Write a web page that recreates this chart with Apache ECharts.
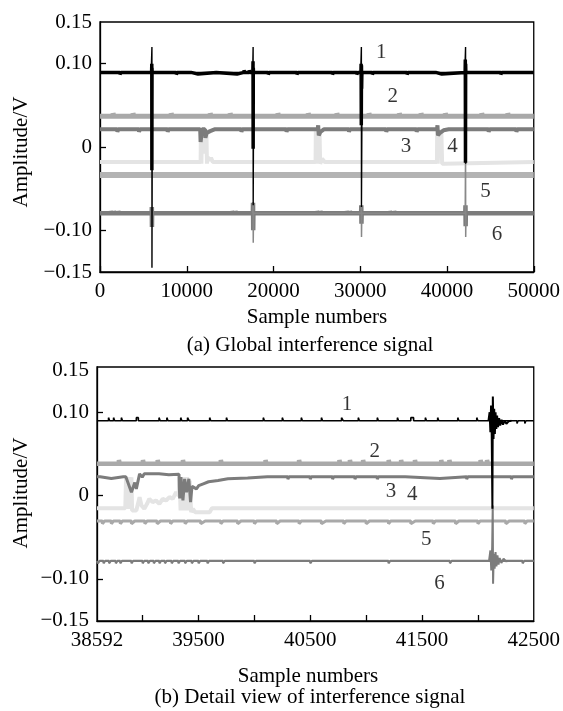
<!DOCTYPE html>
<html><head><meta charset="utf-8">
<script src="https://cdn.jsdelivr.net/npm/echarts@6/dist/echarts.min.js"></script>
<style>html,body{margin:0;padding:0;background:#fff}#c{width:563px;height:711px}</style>
</head><body><div id="c"></div>
<script>
// ---------- (a) global view : sample number / amplitude (V) ----------
const yLabelValues = [-0.15, -0.10, 0, 0.10, 0.15];
const yTickValues = [-0.10, 0, 0.10];

const topSig1 = [[0,0.0895],[2300,0.0895],[2300,0.087],[2400,0.087],[2400,0.0895],
 [5950,0.0895],[5970,0.1],[5980,-0.028],[5995,0.095],[6010,0.0895],
 [8800,0.0895],[8800,0.087],[8900,0.0895],
 [10500,0.0895],[10500,0.0875],[11300,0.0875],[11300,0.0895],
 [13400,0.0895],[13400,0.0875],[15800,0.0875],[15800,0.0895],
 [16600,0.0895],[16600,0.092],[16680,0.092],[16680,0.0895],[17200,0.0895],[17200,0.092],[17280,0.092],[17280,0.0895],
 [17620,0.0895],[17640,0.103],[17655,-0.002],[17670,0.095],[17690,0.0895],
 [19400,0.0895],[19400,0.087],[19500,0.0895],
 [22700,0.0895],[22700,0.087],[22800,0.0895],
 [26800,0.0895],[26800,0.087],[26900,0.0895],
 [29600,0.0895],[29600,0.087],[29700,0.0895],
 [30080,0.0895],[30100,0.1],[30120,0.026],[30140,0.098],[30160,0.07],[30180,0.085],[30200,0.0895],
 [31400,0.0895],[31400,0.087],[31500,0.0895],
 [35400,0.0895],[35400,0.087],[35500,0.0895],
 [38700,0.0895],[38700,0.0875],[39400,0.0875],[39400,0.0895],
 [42090,0.0895],[42110,0.105],[42130,-0.019],[42150,0.1],[42170,0.0895],
 [46200,0.0895],[46200,0.087],[46300,0.0895],[50000,0.0895]];
const topSig1Burst = [[5900,0.0895],[5985,0.12],[5990,-0.145],[6040,0.0895],
 [17600,0.0895],[17650,0.12],[17660,-0.07],[17720,0.0895],
 [30050,0.0895],[30130,0.12],[30140,-0.072],[30220,0.0895],
 [42050,0.0895],[42140,0.12],[42150,-0.02],[42220,0.0895]];
const topSig2 = [[0,0.037],[1500,0.037],[1500,0.0405],[1600,0.037],[3800,0.037],[3800,0.0405],[3900,0.037],
 [8200,0.037],[8200,0.0405],[8300,0.037],[12700,0.037],[12700,0.0405],[12800,0.037],
 [15000,0.037],[15000,0.0405],[15100,0.037],[20500,0.037],[20500,0.0405],[20600,0.037],
 [24000,0.037],[24000,0.0405],[24100,0.037],[27300,0.037],[27300,0.0405],[27400,0.037],
 [31000,0.037],[31000,0.0405],[31100,0.037],[34500,0.037],[34500,0.0405],[34600,0.037],
 [37000,0.037],[37000,0.0405],[37100,0.037],[39800,0.037],[39800,0.0405],[39900,0.037],
 [44000,0.037],[44000,0.0405],[44100,0.037],[47000,0.037],[47000,0.0405],[47100,0.037],[50000,0.037]];
const topSig3 = [[0,0.0212],[2000,0.0212],[2000,0.018],[2100,0.0212],[4500,0.0212],[4500,0.018],[4600,0.0212],
 [7800,0.0212],[7800,0.018],[7900,0.0212],
 [11550,0.0212],[11600,0.006],[11700,0.006],[11750,0.0212],[12100,0.0212],[12150,0.011],[12300,0.017],[12700,0.019],[13200,0.0212],
 [16300,0.0212],[16300,0.018],[16400,0.0212],[21500,0.0212],[21500,0.018],[21600,0.0212],
 [25100,0.0212],[25150,0.026],[25220,0.014],[25400,0.018],[25800,0.0212],
 [28700,0.0212],[28700,0.018],[28800,0.0212],[33000,0.0212],[33000,0.018],[33100,0.0212],
 [36500,0.0212],[36500,0.018],[36600,0.0212],
 [38850,0.0212],[38900,0.026],[38960,0.014],[39200,0.017],[39600,0.02],[40200,0.0212],
 [44800,0.0212],[44800,0.018],[44900,0.0212],[48000,0.0212],[48000,0.018],[48100,0.0212],[50000,0.0212]];
const topSig4 = [[0,-0.018],[11600,-0.018],[11630,0.021],[11690,-0.02],[11750,0.021],[11810,-0.005],[11900,0.003],
 [12000,-0.008],[12100,0.004],[12200,-0.002],[12260,0.021],[12330,-0.02],[12400,-0.012],[12600,-0.016],[12800,-0.013],[13000,-0.018],
 [24850,-0.018],[24880,0.021],[24950,-0.02],[25020,0.021],[25100,-0.004],[25200,0.003],[25300,0.021],[25380,-0.02],[25600,-0.014],[25900,-0.018],
 [38840,-0.018],[38870,0.021],[38930,-0.02],[39000,-0.002],[39150,-0.006],[39300,0.003],[39340,0.021],[39440,-0.02],[39700,-0.02],[39800,-0.018],
 [50000,-0.018]];
const topSig5 = [[0,-0.0336],[50000,-0.0336]];
const topSig6 = [[0,-0.0796],
 [1200,-0.0796],[1200,-0.0768],[1260,-0.0768],[1260,-0.0796],[1600,-0.0796],[1600,-0.0768],[1660,-0.0768],[1660,-0.0796],
 [2100,-0.0796],[2100,-0.0768],[2160,-0.0768],[2160,-0.0796],
 [5960,-0.0796],[5975,-0.072],[5990,-0.096],[6005,-0.0796],
 [15200,-0.0796],[15200,-0.0768],[15260,-0.0768],[15260,-0.0796],[15600,-0.0796],[15600,-0.0768],[15660,-0.0768],[15660,-0.0796],
 [17620,-0.0796],[17640,-0.067],[17660,-0.1],[17680,-0.0796],
 [25000,-0.0796],[25000,-0.0768],[25060,-0.0768],[25060,-0.0796],[25400,-0.0796],[25400,-0.0768],[25460,-0.0768],[25460,-0.0796],
 [28400,-0.0796],[28400,-0.0768],[28460,-0.0768],[28460,-0.0796],[28800,-0.0796],[28800,-0.0768],[28860,-0.0768],[28860,-0.0796],
 [30100,-0.0796],[30120,-0.07],[30140,-0.092],[30160,-0.0796],
 [33400,-0.0796],[33400,-0.0768],[33460,-0.0768],[33460,-0.0796],[33900,-0.0796],[33900,-0.0768],[33960,-0.0768],[33960,-0.0796],
 [42110,-0.0796],[42130,-0.07],[42150,-0.095],[42170,-0.0796],[50000,-0.0796]];
const topSig6Burst = [[17600,-0.0796],[17650,-0.066],[17665,-0.115],[17700,-0.0796],
 [30100,-0.0796],[30130,-0.072],[30145,-0.108],[30180,-0.0796],
 [42100,-0.0796],[42140,0.0],[42155,-0.108],[42190,-0.0796]];
const markText = ['1','2','3','4','5','6'];
const topMarkX = [32414, 33750, 35270, 40620, 44430, 45770];
const topMarkY = [0.113, 0.061, 0.001, 0.0006, -0.053, -0.105];

// ---------- (b) detail view ----------
const botXLabels = [38592, 39500, 40500, 41500, 42500];
const botXTicks = [39000, 39500, 40000, 40500, 41000, 41500, 42000];
const botSig1 = [[38592,0.0898],[38695,0.0898],[38695,0.0935],[38705,0.0898],[38740,0.0898],[38740,0.0935],[38750,0.0898],
 [38810,0.0898],[38810,0.0935],[38820,0.0898],[38944,0.0898],[38944,0.0935],[38962,0.0935],[38962,0.0898],
 [39147,0.0898],[39147,0.0935],[39157,0.0898],[39217,0.0898],[39217,0.0935],[39227,0.0898],
 [39341,0.0898],[39341,0.0935],[39351,0.0898],[39402,0.0898],[39402,0.0935],[39416,0.0935],[39416,0.0898],
 [39600,0.0898],[39600,0.0935],[39610,0.0898],[39750,0.0898],[39750,0.0935],[39760,0.0898],
 [40080,0.0898],[40080,0.0935],[40090,0.0898],[40250,0.0898],[40250,0.0935],[40260,0.0898],
 [40420,0.0898],[40420,0.0935],[40430,0.0898],[40600,0.0898],[40600,0.0935],[40610,0.0898],
 [40780,0.0898],[40780,0.0935],[40795,0.0935],[40795,0.0898],[40930,0.0898],[40930,0.0935],[40940,0.0898],
 [41100,0.0898],[41100,0.0935],[41110,0.0898],[41280,0.0898],[41280,0.0935],[41290,0.0898],
 [41400,0.0898],[41400,0.0935],[41425,0.0935],[41425,0.0898],[41530,0.0898],[41530,0.0935],[41540,0.0898],
 [41640,0.0898],[41640,0.0935],[41650,0.0898],[41820,0.0898],[41820,0.0935],[41830,0.0898],
 [41990,0.0898],[41990,0.0935],[42000,0.0898],[42350,0.0898],[42350,0.0865],[42360,0.0898],
 [42420,0.0898],[42420,0.0865],[42430,0.0898],[42500,0.0898]];
const botSig1Burst = [[42095,0.0898],[42105,0.1],[42112,0.076],[42118,0.108],[42124,0.072],[42130,-0.016],[42134,0.119],
 [42140,0.068],[42146,0.104],[42152,0.074],[42158,0.1],[42165,0.08],[42172,0.096],[42180,0.082],[42190,0.093],
 [42200,0.084],[42212,0.091],[42225,0.085],[42240,0.09],[42255,0.086],[42275,0.089],[42300,0.0898]];
const botSig2 = [[38592,0.0382],[38788,0.0382],[38788,0.0425],[38796,0.0382],[39003,0.0382],[39003,0.0425],[39011,0.0382],
 [39135,0.0382],[39135,0.0425],[39143,0.0382],[39361,0.0382],[39361,0.0425],[39369,0.0382],
 [39700,0.0382],[39700,0.0425],[39708,0.0382],[40100,0.0382],[40100,0.0425],[40108,0.0382],
 [40400,0.0382],[40400,0.0425],[40408,0.0382],[40761,0.0382],[40761,0.0425],[40769,0.0382],
 [40855,0.0382],[40855,0.0425],[40863,0.0382],[40973,0.0382],[40973,0.0425],[40981,0.0382],
 [41202,0.0382],[41202,0.0425],[41210,0.0382],[41313,0.0382],[41313,0.0425],[41321,0.0382],
 [41437,0.0382],[41437,0.0425],[41445,0.0382],[41672,0.0382],[41672,0.0425],[41680,0.0382],
 [41745,0.0382],[41745,0.0425],[41753,0.0382],[42024,0.0382],[42024,0.0425],[42032,0.0382],
 [42082,0.0382],[42082,0.0425],[42090,0.0382],[42500,0.0382]];
const botSig3 = [[38592,0.0226],[38620,0.0226],[38620,0.0205],[38720,0.0205],[38720,0.0226],[38827,0.0226],
 [38850,0.0226],[38900,0.004],[38930,0.0156],[38944,0.008],[38973,0.026],[38997,0.022],[39015,0.026],
 [39059,0.0262],[39147,0.026],[39235,0.025],[39326,0.0255],[39332,-0.0035],[39343,0.022],[39361,-0.006],
 [39376,0.02],[39393,0.004],[39414,0.02],[39429,-0.008],[39442,0.011],[39458,0.0118],[39482,0.008],
 [39502,0.0118],[39543,0.014],[39590,0.0165],[39675,0.018],[39763,0.02],[39940,0.021],[40116,0.0226],
 [40300,0.0226],[40300,0.0195],[40310,0.0226],[40500,0.0226],[40500,0.0195],[40510,0.0226],
 [40700,0.0226],[40700,0.0195],[40710,0.0226],[40900,0.0226],[40900,0.0195],[40910,0.0226],
 [41100,0.0226],[41100,0.0195],[41110,0.0226],[41350,0.0226],[41350,0.0205],[41660,0.0205],[41660,0.0226],
 [41900,0.0226],[41900,0.0195],[41910,0.0226],[42300,0.0226],[42300,0.0195],[42310,0.0226],[42500,0.0226]];
const botSig4 = [[38592,-0.0154],[38845,-0.0154],[38852,0.022],[38860,-0.016],[38868,0.022],[38876,-0.016],
 [38884,0.022],[38892,-0.016],[38900,0.022],[38906,-0.018],[38920,-0.02],[38944,-0.018],[38973,-0.002],
 [38990,-0.012],[39015,-0.016],[39040,-0.01],[39060,-0.004],[39090,-0.008],[39120,-0.006],[39150,-0.01],
 [39180,-0.004],[39210,-0.006],[39240,-0.002],[39270,-0.004],[39300,0.004],[39322,0.0],
 [39330,0.022],[39340,-0.018],[39350,0.022],[39362,-0.018],[39374,0.022],[39386,-0.018],[39398,0.022],
 [39410,-0.018],[39422,0.018],[39434,-0.02],[39450,-0.016],[39470,-0.02],[39600,-0.02],[39620,-0.0154],
 [42500,-0.0154]];
const botSig5 = [[38592,-0.0306],[38640,-0.0306],[38640,-0.034],[38660,-0.0306],[38720,-0.0306],[38720,-0.034],[38740,-0.0306],
 [38800,-0.0306],[38800,-0.034],[38820,-0.0306],[38900,-0.0306],[38900,-0.034],[38930,-0.0306],
 [39020,-0.0306],[39020,-0.034],[39040,-0.0306],[39130,-0.0306],[39130,-0.034],[39160,-0.0306],
 [39250,-0.0306],[39250,-0.034],[39270,-0.0306],[39380,-0.0306],[39380,-0.034],[39400,-0.0306],
 [39520,-0.0306],[39520,-0.034],[39560,-0.0306],[39700,-0.0306],[39700,-0.034],[39720,-0.0306],
 [39850,-0.0306],[39850,-0.034],[39880,-0.0306],[40000,-0.0306],[40000,-0.034],[40020,-0.0306],
 [40200,-0.0306],[40200,-0.034],[40230,-0.0306],[40400,-0.0306],[40400,-0.034],[40420,-0.0306],
 [40600,-0.0306],[40600,-0.034],[40640,-0.0306],[40800,-0.0306],[40800,-0.034],[40820,-0.0306],
 [41000,-0.0306],[41000,-0.034],[41030,-0.0306],[41200,-0.0306],[41200,-0.034],[41220,-0.0306],
 [41400,-0.0306],[41400,-0.034],[41440,-0.0306],[41600,-0.0306],[41600,-0.034],[41620,-0.0306],
 [41800,-0.0306],[41800,-0.034],[41830,-0.0306],[42000,-0.0306],[42000,-0.034],[42020,-0.0306],
 [42250,-0.0306],[42250,-0.034],[42280,-0.0306],[42420,-0.0306],[42420,-0.034],[42440,-0.0306],[42500,-0.0306]];
const botSig6 = [[38592,-0.0786],
 [38600,-0.0786],[38600,-0.0815],[38615,-0.0815],[38615,-0.0786],[38650,-0.0786],[38650,-0.0815],[38665,-0.0815],[38665,-0.0786],
 [38700,-0.0786],[38700,-0.0815],[38715,-0.0815],[38715,-0.0786],[38760,-0.0786],[38760,-0.0815],[38775,-0.0815],[38775,-0.0786],
 [38800,-0.0786],[38800,-0.0815],[38815,-0.0815],[38815,-0.0786],[38900,-0.0786],[38900,-0.0815],[38915,-0.0815],[38915,-0.0786],
 [39000,-0.0786],[39000,-0.0815],[39015,-0.0815],[39015,-0.0786],[39050,-0.0786],[39050,-0.0815],[39065,-0.0815],[39065,-0.0786],
 [39100,-0.0786],[39100,-0.0815],[39115,-0.0815],[39115,-0.0786],[39150,-0.0786],[39150,-0.0815],[39165,-0.0815],[39165,-0.0786],
 [39200,-0.0786],[39200,-0.0815],[39215,-0.0815],[39215,-0.0786],[39260,-0.0786],[39260,-0.0815],[39275,-0.0815],[39275,-0.0786],
 [39320,-0.0786],[39320,-0.0815],[39335,-0.0815],[39335,-0.0786],[39380,-0.0786],[39380,-0.0815],[39395,-0.0815],[39395,-0.0786],
 [39440,-0.0786],[39440,-0.0815],[39455,-0.0815],[39455,-0.0786],[39500,-0.0786],[39500,-0.0815],[39515,-0.0815],[39515,-0.0786],
 [39580,-0.0786],[39580,-0.0815],[39595,-0.0815],[39595,-0.0786],[39720,-0.0786],[39720,-0.0815],[39735,-0.0815],[39735,-0.0786],
 [40000,-0.0786],[40000,-0.0815],[40015,-0.0815],[40015,-0.0786],[40500,-0.0786],[40500,-0.0815],[40515,-0.0815],[40515,-0.0786],
 [41200,-0.0786],[41200,-0.0815],[41215,-0.0815],[41215,-0.0786],[41750,-0.0786],[41750,-0.0815],[41765,-0.0815],[41765,-0.0786],
 [42400,-0.0786],[42400,-0.0815],[42415,-0.0815],[42415,-0.0786],[42500,-0.0786]];
const botSig6Burst = [[42100,-0.0786],[42112,-0.066],[42120,-0.09],[42128,-0.062],[42133,-0.012],[42136,-0.106],
 [42142,-0.07],[42150,-0.088],[42158,-0.068],[42166,-0.085],[42175,-0.072],[42185,-0.083],[42195,-0.075],
 [42210,-0.081],[42230,-0.076],[42250,-0.079],[42270,-0.0786]];
const botMarkX = [40829, 41078, 41222, 41413, 41539, 41657];
const botMarkY = [0.1095, 0.0526, 0.0054, 0.0014, -0.0526, -0.1054];

// ---------- chart ----------
const FONT = 'Liberation Serif';
const C_BLACK = '#000000', C_LIGHT = '#a9a9a9', C_DARK = '#7c7c7c', C_PALE = '#e4e4e4', C_MID = '#b3b3b3';
const chart = echarts.init(document.getElementById('c'), null, {renderer: 'canvas'});
function yFmt(v) { if (Math.abs(v) < 1e-9) return '0'; return (v < 0 ? '\u2212' : '') + Math.abs(v).toFixed(2); }
const xFmt = v => String(Math.round(v));
function xAxisCfg(grid, opts) {
  return Object.assign({
    type: 'value', gridIndex: grid,
    axisLine: {show: true, onZero: false, lineStyle: {color: '#000', width: 1.3}},
    axisTick: {show: true, inside: true, length: 6, lineStyle: {color: '#000', width: 1.3}},
    axisLabel: {color: '#000', fontFamily: FONT, fontSize: 21, margin: 9, formatter: xFmt, showMinLabel: true, showMaxLabel: true},
    splitLine: {show: false}
  }, opts);
}
function yAxisCfg(grid, min, max) {
  return {
    type: 'value', gridIndex: grid, min: min, max: max,
    axisLine: {show: true, onZero: false, lineStyle: {color: '#000', width: 1.3}},
    axisTick: {show: true, inside: true, length: 6, customValues: yTickValues, lineStyle: {color: '#000', width: 1.3}},
    axisLabel: {color: '#000', fontFamily: FONT, fontSize: 21, margin: 8, customValues: yLabelValues, formatter: yFmt},
    splitLine: {show: false}
  };
}
function line(grid, data, color, width, z) {
  return {type: 'line', xAxisIndex: grid, yAxisIndex: grid, data: data, showSymbol: false, symbol: 'none',
    silent: true, animation: false, z: z, clip: true,
    lineStyle: {color: color, width: width}};
}
function marks(grid, xs, ys) {
  return {type: 'scatter', xAxisIndex: grid, yAxisIndex: grid, z: 20, silent: true, symbolSize: 1,
    itemStyle: {color: 'rgba(0,0,0,0)'},
    data: xs.map((x, i) => ({name: markText[i], value: [x, ys[i]]})),
    label: {show: true, position: 'inside', formatter: '{b}', color: '#000', fontFamily: FONT, fontSize: 21}};
}
const txt = (t, x, y, rot) => ({type: 'text', x: x, y: y, rotation: rot || 0, silent: true,
  style: {text: t, font: '21px "' + FONT + '"', fill: '#000', textAlign: 'center', textVerticalAlign: 'middle'}});

chart.setOption({
  animation: false,
  backgroundColor: '#fff',
  grid: [
    {left: 100, top: 22, width: 437, height: 250, show: true, borderColor: '#000', borderWidth: 1.3},
    {left: 97, top: 367, width: 444, height: 254, show: true, borderColor: '#000', borderWidth: 1.3}
  ],
  xAxis: [
    xAxisCfg(0, {min: 0, max: 50000, interval: 10000}),
    xAxisCfg(1, {min: 38592, max: 42500,
      axisLabel: {color: '#000', fontFamily: FONT, fontSize: 21, margin: 9, formatter: xFmt, customValues: botXLabels},
      axisTick: {show: true, inside: true, length: 6, customValues: botXTicks, lineStyle: {color: '#000', width: 1.3}}})
  ],
  yAxis: [yAxisCfg(0, -0.15, 0.15), yAxisCfg(1, -0.1507, 0.1543)],
  graphic: [
    txt('Amplitude/V', 21, 152, Math.PI / 2),
    txt('Sample numbers', 317, 317),
    txt('(a) Global interference signal', 310, 345),
    txt('Amplitude/V', 21, 493, Math.PI / 2),
    txt('Sample numbers', 308, 676),
    txt('(b) Detail view of interference signal', 310, 697)
  ],
  series: [
    line(0, topSig4, C_PALE, 4, 2),
    line(0, topSig5, C_MID, 6, 3),
    line(0, topSig2, C_LIGHT, 5, 4),
    line(0, topSig6, C_DARK, 4.5, 5),
    line(0, topSig6Burst, '#888888', 1.5, 5),
    line(0, topSig3, C_DARK, 4, 6),
    line(0, topSig1Burst, C_BLACK, 1.4, 7),
    line(0, topSig1, C_BLACK, 3.5, 8),
    marks(0, topMarkX, topMarkY),
    line(1, botSig4, C_PALE, 4, 2),
    line(1, botSig5, C_LIGHT, 3, 3),
    line(1, botSig2, C_LIGHT, 4.5, 4),
    line(1, botSig6, C_DARK, 2.2, 5),
    line(1, botSig6Burst, C_DARK, 2, 5),
    line(1, botSig3, C_DARK, 3, 6),
    line(1, botSig1, C_BLACK, 1.6, 7),
    line(1, botSig1Burst, C_BLACK, 2, 8),
    marks(1, botMarkX, botMarkY)
  ]
});
</script></body></html>
